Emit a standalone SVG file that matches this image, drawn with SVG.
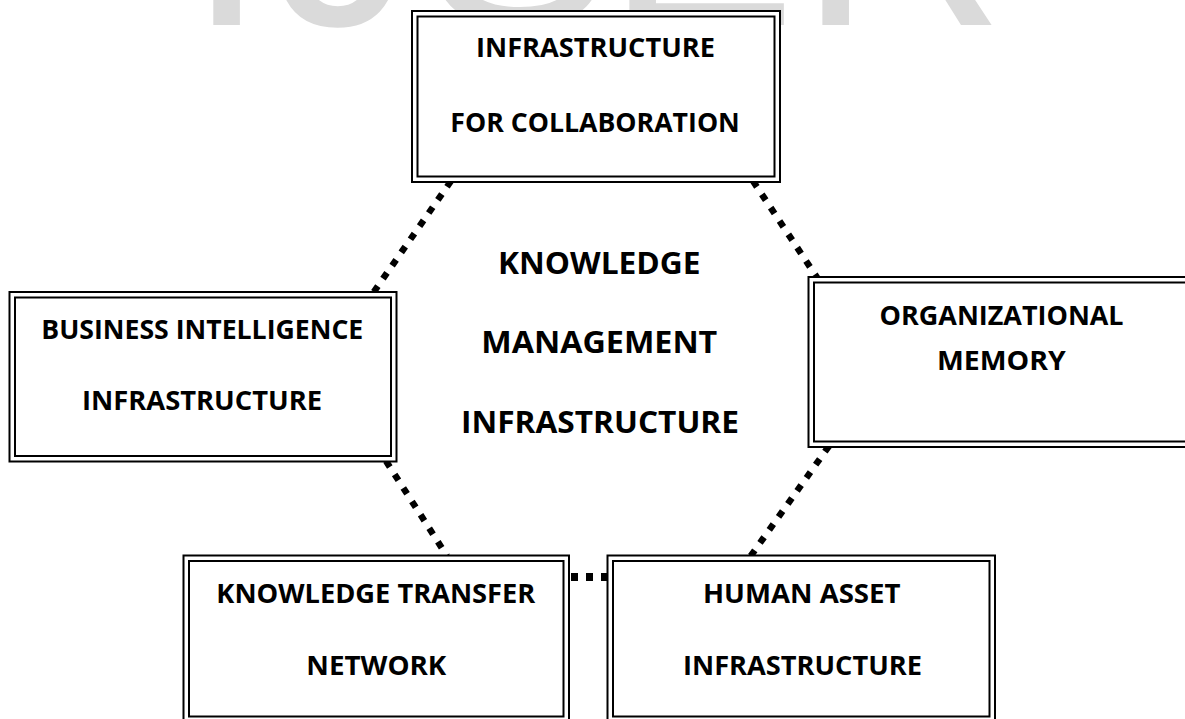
<svg xmlns="http://www.w3.org/2000/svg" width="1185" height="719" viewBox="0 0 1185 719">
  <style>
    .wm { font-family: "Liberation Sans", Arial, sans-serif; font-size: 285px; fill: #dadada; }
    .frame { fill: #ffffff; stroke: #000000; stroke-width: 2; }
    .inner { fill: none; stroke: #000000; stroke-width: 2; }
    .label { font-family: "Open Sans", Lato, "Liberation Sans", sans-serif; font-weight: bold; font-size: 27.5px; fill: #000000; }
    .title { font-family: "Open Sans", Lato, "Liberation Sans", sans-serif; font-weight: bold; font-size: 29.5px; fill: #000000; }
    .dots { fill: none; stroke: #000000; stroke-width: 6.5; stroke-dasharray: 7 9; stroke-linecap: butt; }
  </style>

  <rect width="1185" height="719" fill="#ffffff"/>

  <!-- faint publisher mark along the top edge -->
  <clipPath id="topStrip"><rect x="0" y="0" width="1185" height="30"/></clipPath>
  <g id="watermark" clip-path="url(#topStrip)">
    <text class="wm" x="187" y="25">I</text>
    <text class="wm" x="274" y="25">J</text>
    <text class="wm" x="423" y="25">S</text>
    <text class="wm" x="606" y="25">E</text>
    <text class="wm" x="799" y="25">R</text>
  </g>

  <!-- dotted links between the surrounding infrastructure boxes -->
  <g id="connectors">
    <path class="dots" d="M451,181 L373,293"/>
    <path class="dots" d="M753,181 L818,279"/>
    <path class="dots" d="M386,461 L447,556"/>
    <path class="dots" d="M829,446 L750,557"/>
    <path class="dots" d="M571,577 L608,577" style="stroke-width:8; stroke-dasharray:7 8"/>
  </g>

  <!-- central heading -->
  <g id="node-km">
    <text class="title" x="498" y="274.3" textLength="202.5" lengthAdjust="spacingAndGlyphs">KNOWLEDGE</text>
    <text class="title" x="481.3" y="353.3" textLength="236" lengthAdjust="spacingAndGlyphs">MANAGEMENT</text>
    <text class="title" x="461" y="432.7" textLength="278" lengthAdjust="spacingAndGlyphs">INFRASTRUCTURE</text>
  </g>

  <g id="node-collaboration">
    <rect class="frame" x="412" y="11" width="368" height="171"/>
    <rect class="inner" x="417.5" y="16.5" width="357" height="160"/>
    <text class="label" x="476" y="57.3" textLength="239" lengthAdjust="spacingAndGlyphs">INFRASTRUCTURE</text>
    <text class="label" x="450.3" y="131.7" textLength="289.5" lengthAdjust="spacingAndGlyphs">FOR COLLABORATION</text>
  </g>

  <g id="node-business-intelligence">
    <rect class="frame" x="9.5" y="292" width="387" height="169.5"/>
    <rect class="inner" x="15" y="297.5" width="376" height="158.5"/>
    <text class="label" x="41.3" y="339.3" textLength="322" lengthAdjust="spacingAndGlyphs">BUSINESS INTELLIGENCE</text>
    <text class="label" x="82" y="410" textLength="240" lengthAdjust="spacingAndGlyphs">INFRASTRUCTURE</text>
  </g>

  <g id="node-organizational-memory">
    <rect class="frame" x="808.5" y="277" width="390" height="170"/>
    <rect class="inner" x="814" y="282.5" width="380" height="159"/>
    <text class="label" x="879.6" y="325" textLength="244" lengthAdjust="spacingAndGlyphs">ORGANIZATIONAL</text>
    <text class="label" x="937" y="370" textLength="128.8" lengthAdjust="spacingAndGlyphs">MEMORY</text>
  </g>

  <g id="node-knowledge-transfer">
    <rect class="frame" x="183.5" y="555.5" width="385.5" height="168"/>
    <rect class="inner" x="189" y="561" width="374.5" height="155.5"/>
    <text class="label" x="216.3" y="603.3" textLength="319" lengthAdjust="spacingAndGlyphs">KNOWLEDGE TRANSFER</text>
    <text class="label" x="306.3" y="675" textLength="140" lengthAdjust="spacingAndGlyphs">NETWORK</text>
  </g>

  <g id="node-human-asset">
    <rect class="frame" x="607.5" y="555.5" width="387.5" height="168"/>
    <rect class="inner" x="613" y="561" width="376.5" height="155.5"/>
    <text class="label" x="703" y="603.3" textLength="197.5" lengthAdjust="spacingAndGlyphs">HUMAN ASSET</text>
    <text class="label" x="683" y="675" textLength="239" lengthAdjust="spacingAndGlyphs">INFRASTRUCTURE</text>
  </g>
</svg>
